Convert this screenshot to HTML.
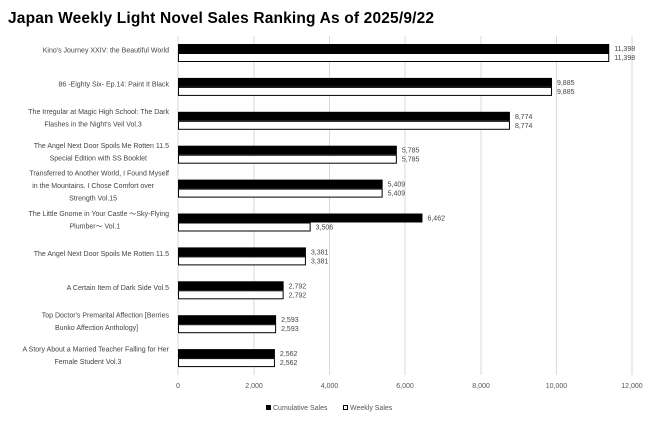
<!DOCTYPE html>
<html><head><style>
body{margin:0;background:#fff;}
svg{display:block;font-family:"Liberation Sans",sans-serif;}
</style></head><body>
<svg width="660" height="421" viewBox="0 0 660 421">
<rect width="660" height="421" fill="#fff"/>
<text x="8" y="23" font-size="15.5" font-weight="bold" fill="#000" textLength="426">Japan Weekly Light Novel Sales Ranking As of 2025/9/22</text>
<g stroke="#d9d9d9" stroke-width="1">
<line x1="254" y1="36" x2="254" y2="375"/>
<line x1="329.5" y1="36" x2="329.5" y2="375"/>
<line x1="405" y1="36" x2="405" y2="375"/>
<line x1="481" y1="36" x2="481" y2="375"/>
<line x1="556.5" y1="36" x2="556.5" y2="375"/>
<line x1="632" y1="36" x2="632" y2="375"/>
</g>
<line x1="178" y1="36" x2="178" y2="375" stroke="#d9d9d9"/>
<g font-size="7" fill="#555" text-anchor="middle">
<text x="178" y="388">0</text><text x="254" y="388">2,000</text><text x="329.5" y="388">4,000</text><text x="405" y="388">6,000</text><text x="481" y="388">8,000</text><text x="556.5" y="388">10,000</text><text x="632" y="388">12,000</text>
</g>
<g id="bars" font-size="7" fill="#444"></g>
<g font-size="7" fill="#444" text-anchor="end" id="labels"></g>
<rect x="266" y="405" width="5" height="5" fill="#000"/>
<text x="273" y="410" font-size="7" fill="#555">Cumulative Sales</text>
<rect x="343.5" y="405.5" width="4" height="4" fill="#fff" stroke="#000"/>
<text x="350" y="410" font-size="7" fill="#555">Weekly Sales</text>
<script>
const d=[[11398,11398,["Kino's Journey XXIV: the Beautiful World"]],
[9885,9885,["86 -Eighty Six- Ep.14: Paint It Black"]],
[8774,8774,["The Irregular at Magic High School: The Dark","Flashes in the Night's Veil Vol.3"]],
[5785,5785,["The Angel Next Door Spoils Me Rotten 11.5","Special Edition with SS Booklet"]],
[5409,5409,["Transferred to Another World, I Found Myself","in the Mountains. I Chose Comfort over","Strength Vol.15"]],
[6462,3506,["The Little Gnome in Your Castle \u301CSky-Flying","Plumber\u301C Vol.1"]],
[3381,3381,["The Angel Next Door Spoils Me Rotten 11.5"]],
[2792,2792,["A Certain Item of Dark Side Vol.5"]],
[2593,2593,["Top Doctor's Premarital Affection [Berries","Bunko Affection Anthology]"]],
[2562,2562,["A Story About a Married Teacher Falling for Her","Female Student Vol.3"]]];
const ns="http://www.w3.org/2000/svg",b=document.getElementById('bars'),l=document.getElementById('labels');
const s=454/12000,fmt=n=>n.toLocaleString('en-US');
d.forEach((r,i)=>{const c=53+i*33.9;
const e=(t,a)=>{const x=document.createElementNS(ns,t);for(const k in a)x.setAttribute(k,a[k]);return x;};
b.appendChild(e('rect',{x:178,y:c-9,width:r[0]*s,height:9,fill:'#000'}));
b.appendChild(e('rect',{x:178.5,y:c+0.5,width:r[1]*s-1,height:8,fill:'#fff',stroke:'#000'}));
let t=e('text',{x:178+r[0]*s+5,y:c-2});t.textContent=fmt(r[0]);b.appendChild(t);
t=e('text',{x:178+r[1]*s+5,y:c+7});t.textContent=fmt(r[1]);b.appendChild(t);
const n=r[2].length,lh=12.5;const y0=c-((n-1)*lh)/2-3+2.5;
r[2].forEach((s2,j)=>{const tt=e('text',{x:169,y:y0+j*lh,'text-anchor':j==0||n==1?'end':'middle'});
if(j>0){tt.setAttribute('x',169-l0(r[2][0])/2);}
tt.textContent=s2;l.appendChild(tt);});
});
function l0(s){return s.length*3.45;}
</script>
</svg>
</body></html>
